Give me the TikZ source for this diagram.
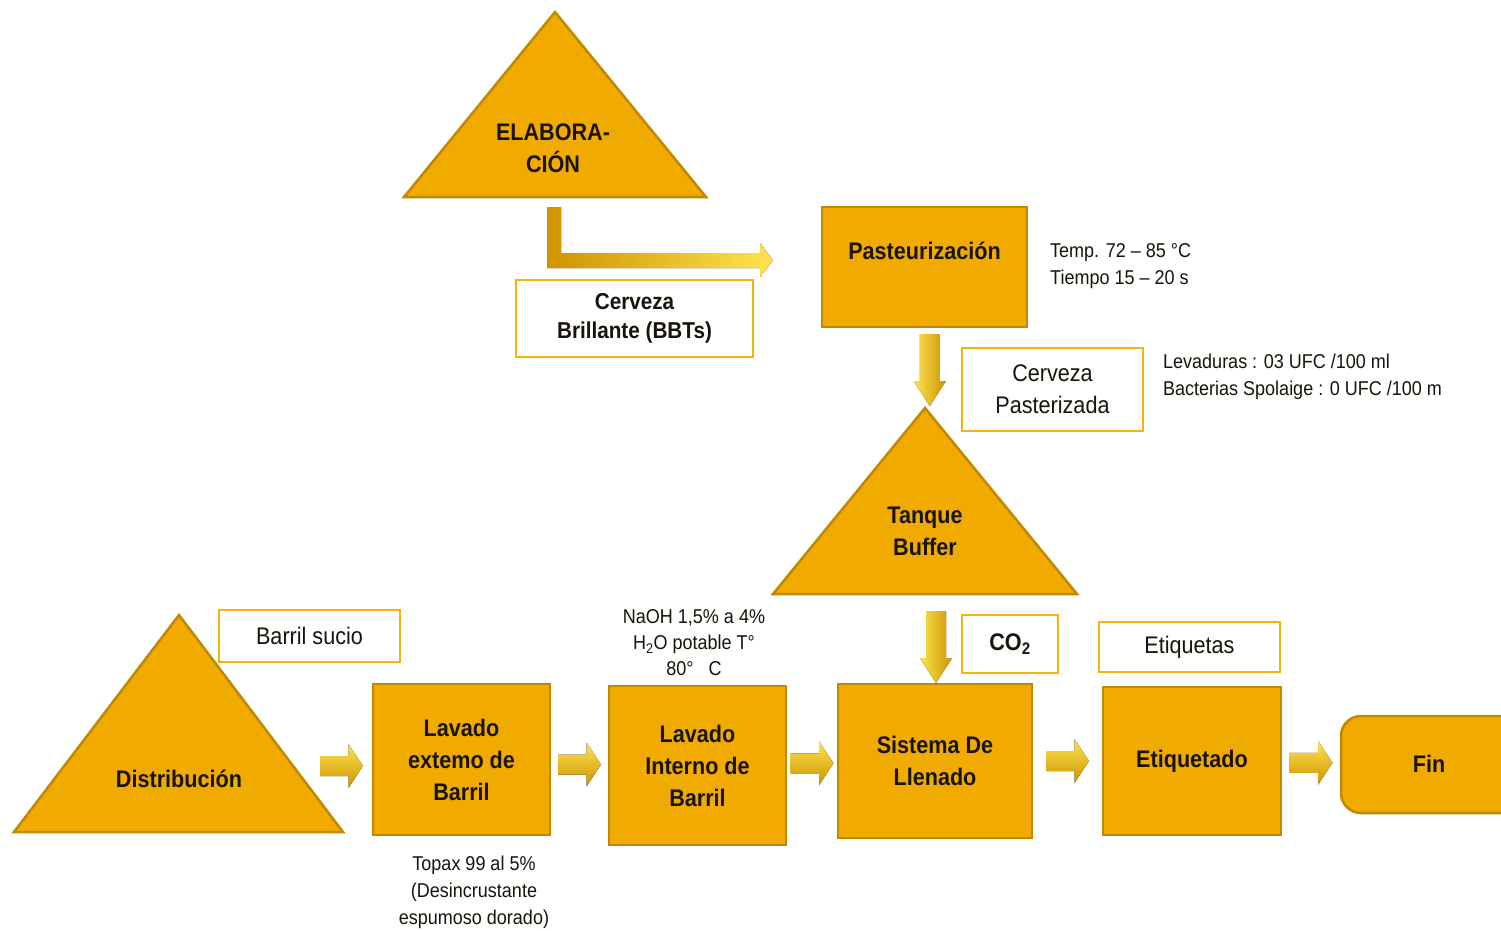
\documentclass[tikz,border=0pt]{standalone}
\usepackage{fontspec}
\setmainfont{Liberation Sans}[FakeStretch=0.9]
\usetikzlibrary{calc}
\definecolor{gold}{RGB}{240,170,0}
\definecolor{golddark}{RGB}{192,137,0}
\definecolor{boxline}{RGB}{246,178,10}
\definecolor{arrlight}{RGB}{255,226,80}
\definecolor{arrdark}{RGB}{205,148,0}
\definecolor{txt}{RGB}{25,20,10}
\tikzset{
  proc/.style={draw=golddark, line width=2.5pt, fill=gold, align=center, text=txt,
    font=\fontsize{24}{32}\selectfont\bfseries, inner sep=0pt},
  lbl/.style={draw=boxline, line width=2.5pt, fill=white, align=center, text=txt,
    font=\fontsize{24}{32}\selectfont, inner sep=0pt},
  lblb/.style={lbl, font=\fontsize{23}{29}\selectfont\bfseries},
  note/.style={align=left, text=txt, font=\fontsize{20}{27}\selectfont, inner sep=0pt},
  notec/.style={note, align=center},
  tri/.style={draw=golddark, line width=2.5pt, fill=gold, line join=miter},
  tritext/.style={align=center, text=txt, font=\fontsize{24}{32}\selectfont\bfseries, inner sep=0pt},
  pics/harrow/.style={code={
    \fill[top color=arrlight, bottom color=arrdark]
      (-21.5,-10) -- (7,-10) -- (7,-22) -- (21.5,0) -- (7,22) -- (7,10) -- (-21.5,10) -- cycle;}},
  pics/varrow/.style={code={
    \fill[left color=arrlight, right color=arrdark]
      (-10,-36) -- (10,-36) -- (10,11) -- (16,11) -- (0,36) -- (-16,11) -- (-10,11) -- cycle;}},
}
\begin{document}
\begin{tikzpicture}[x=1pt,y=-1pt]
\useasboundingbox (0,0) rectangle (1501,931);
\clip (0,0) rectangle (1501,931);
\fill[white] (0,0) rectangle (1501,931);

% ---- Elaboracion triangle
\coordinate (elabA) at (555,12);
\coordinate (elabL) at (404,197);
\coordinate (elabR) at (706,197);
\draw[tri] (elabA) -- (elabR) -- (elabL) -- cycle;
\node[tritext] (elab) at (553,148) {ELABORA-\\CIÓN};

% ---- Pasteurizacion
\node[proc, minimum width=205pt, minimum height=120pt] (past) at (924.5,267) {};
\node[tritext] (pastt) at ($(past.center)+(0,-16)$) {Pasteurización};
\node[note, anchor=west] (pastn) at (1050,266) {Temp. 72 – 85 °C\\Tiempo 15 – 20 s};

% ---- Cerveza brillante
\node[lblb, minimum width=237pt, minimum height=77pt] (bbt) at (634.5,318.5) {Cerveza\\Brillante (BBTs)};

% L-shaped arrow from Elaboracion to Pasteurizacion
\coordinate (ls) at (554,207);
\coordinate (le) at (773,260.5);
\fill[left color=arrdark, right color=arrlight]
  (547,207) -- (561,207) -- (561,253) -- (760,253) -- (760,243) -- (le)
  -- (760,277) -- (760,268) -- (547,268) -- cycle;

% ---- Cerveza pasterizada
\node[lbl, minimum width=181pt, minimum height=83pt] (cpast) at (1052.5,389.5) {Cerveza\\Pasterizada};
\node[note, anchor=west] (cpastn) at (1163,377) {Levaduras : 03 UFC /100 ml\\Bacterias Spolaige : 0 UFC /100 m};

% ---- Tanque buffer
\coordinate (tbA) at (925,408);
\coordinate (tbL) at (773,594);
\coordinate (tbR) at (1077,594);
\draw[tri] (tbA) -- (tbR) -- (tbL) -- cycle;
\node[tritext] (tb) at (925,531) {Tanque\\Buffer};

\pic (a1) at ($(past.south)!0.5!(tbA)+(5,2)$) {varrow};

% ---- Bottom row
\coordinate (diA) at (179,615);
\coordinate (diL) at (14,832);
\coordinate (diR) at (343,832);
\draw[tri] (diA) -- (diR) -- (diL) -- cycle;
\node[tritext] (dist) at (179,779) {Distribución};
\node[lbl, minimum width=181pt, minimum height=52pt] (sucio) at (309.5,636) {Barril sucio};

\node[proc, minimum width=177pt, minimum height=151pt] (lext) at (461.5,759.5) {Lavado\\extemo de\\Barril};
\node[notec] (topax) at (474,892) {Topax 99 al 5\%\\(Desincrustante\\espumoso dorado)};

\node[proc, minimum width=177pt, minimum height=159pt] (lint) at (697.5,765.5) {Lavado\\Interno de\\Barril};
\node[notec, font=\fontsize{20}{26}\selectfont] (naoh) at (694,643) {NaOH 1,5\% a 4\%\\H\textsubscript{2}O potable T°\\80°\,\,\, C};

\node[proc, minimum width=194pt, minimum height=154pt] (llen) at (935,761) {Sistema De\\Llenado};
\node[lbl, font=\fontsize{24}{32}\selectfont\bfseries, minimum width=96pt, minimum height=58pt] (co2) at (1010,644) {CO\textsubscript{2}};
\pic (a2) at (936,647) {varrow};

\node[proc, minimum width=178pt, minimum height=148pt] (etq) at (1192,761) {Etiquetado};
\node[lbl, minimum width=181pt, minimum height=50pt] (etqs) at (1189.5,647) {Etiquetas};

\node[proc, rounded corners=20pt, minimum width=210pt, minimum height=97pt] (fin) at (1446,764.5) {};
\node[tritext] (fint) at (1429,764) {Fin};

% horizontal block arrows between steps
\pic (b1) at (341.5,766) {harrow};
\pic (b2) at ($(lext.east)!0.5!(lint.west)+(0,2)$) {harrow};
\pic (b3) at ($(lint.east)!0.5!(llen.west)$) {harrow};
\pic (b4) at ($(llen.east)!0.5!(etq.west)$) {harrow};
\pic (b5) at ($(etq.east)!0.5!(fin.west)$) {harrow};
\end{tikzpicture}
\end{document}
